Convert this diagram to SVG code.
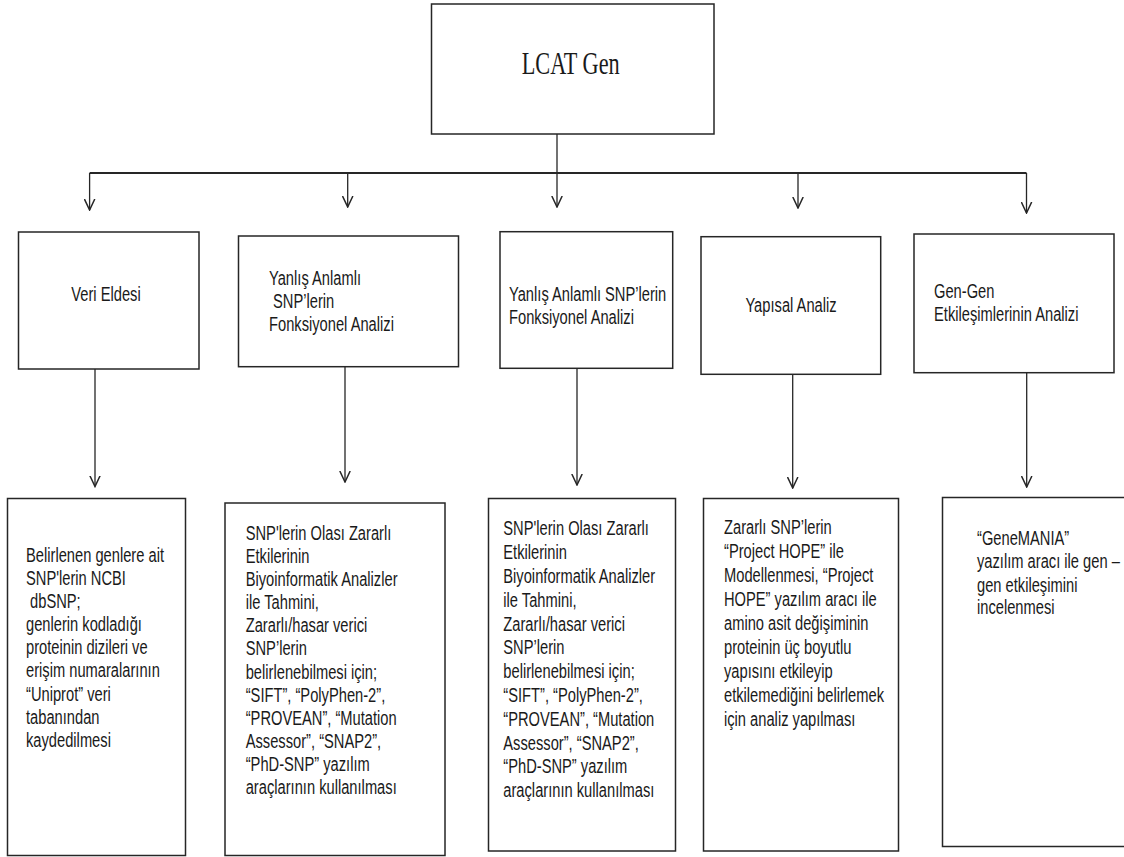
<svg xmlns="http://www.w3.org/2000/svg" width="1124" height="857" viewBox="0 0 1124 857">
<style>
.box{fill:#fff;stroke:#262626;stroke-width:1.5}
.t{font-family:"Liberation Sans",Arial,sans-serif;font-size:21px;fill:#1a1a1a}
.s{font-family:"Liberation Serif","Times New Roman",serif;font-size:31px;fill:#1a1a1a}
.c{fill:none;stroke:#262626;stroke-width:1.3}
.h{fill:none;stroke:#262626;stroke-width:2.2}
</style>
<defs>
<marker id="ah" viewBox="0 0 12 12" refX="11" refY="6" markerWidth="12" markerHeight="12" markerUnits="userSpaceOnUse" orient="auto">
<path d="M0,0.8 L11,6 L0,11.2" fill="none" stroke="#262626" stroke-width="1.5"/>
</marker>
</defs>
<rect width="1124" height="857" fill="#fff"/>

<g id="connectors">
<path class="c" d="M557,134 V207" marker-end="url(#ah)"/>
<path class="h" d="M89.6,173 H1026.5"/>
<path class="c" d="M89.6,173 V210" marker-end="url(#ah)"/>
<path class="c" d="M347.7,173 V207" marker-end="url(#ah)"/>
<path class="c" d="M798,173 V208" marker-end="url(#ah)"/>
<path class="c" d="M1026.5,173 V213" marker-end="url(#ah)"/>
<path class="c" d="M95,369 V486.5" marker-end="url(#ah)"/>
<path class="c" d="M345,366.7 V482" marker-end="url(#ah)"/>
<path class="c" d="M577,368.3 V485" marker-end="url(#ah)"/>
<path class="c" d="M792.7,374.3 V488" marker-end="url(#ah)"/>
<path class="c" d="M1026.7,372.7 V487" marker-end="url(#ah)"/>
</g>

<g id="lcat">
<rect class="box" x="431.5" y="4" width="282.5" height="130"/>
<text class="s" x="521.7" y="74" textLength="98" lengthAdjust="spacingAndGlyphs">LCAT Gen</text>
</g>

<g id="veri-eldesi">
<rect class="box" x="18.5" y="232" width="180.5" height="137"/>
<text class="t" text-anchor="middle" transform="translate(106 0) scale(0.7 1)"><tspan x="0" y="301">Veri Eldesi</tspan></text>
</g>

<g id="yanlis-1">
<rect class="box" x="238.5" y="236" width="220" height="130.7"/>
<text class="t" transform="translate(269 0) scale(0.7 1)"><tspan x="0" y="285">Yanlış Anlamlı</tspan><tspan x="5.8" y="308">SNP’lerin</tspan><tspan x="0" y="331">Fonksiyonel Analizi</tspan></text>
</g>

<g id="yanlis-2">
<rect class="box" x="500" y="231.7" width="172.7" height="136.6"/>
<text class="t" transform="translate(509 0) scale(0.7 1)"><tspan x="0" y="301">Yanlış Anlamlı SNP’lerin</tspan><tspan x="0" y="324">Fonksiyonel Analizi</tspan></text>
</g>

<g id="yapisal">
<rect class="box" x="701" y="236.7" width="179.7" height="137.6"/>
<text class="t" text-anchor="middle" transform="translate(791 0) scale(0.7 1)"><tspan x="0" y="312">Yapısal Analiz</tspan></text>
</g>

<g id="gen-gen">
<rect class="box" x="914" y="234" width="200" height="138.7"/>
<text class="t" transform="translate(934 0) scale(0.7 1)"><tspan x="0" y="298">Gen-Gen</tspan><tspan x="0" y="321">Etkileşimlerinin Analizi</tspan></text>
</g>

<g id="veri-detay">
<rect class="box" x="7.5" y="498.5" width="178" height="357"/>
<text class="t" transform="translate(26 0) scale(0.7 1)"><tspan x="0" y="562">Belirlenen genlere ait</tspan><tspan x="0" y="585.1">SNP'lerin NCBI</tspan><tspan x="5.8" y="608.2">dbSNP;</tspan><tspan x="0" y="631.3">genlerin kodladığı</tspan><tspan x="0" y="654.4">proteinin dizileri ve</tspan><tspan x="0" y="677.5">erişim numaralarının</tspan><tspan x="0" y="700.6">“Uniprot” veri</tspan><tspan x="0" y="723.7">tabanından</tspan><tspan x="0" y="746.8">kaydedilmesi</tspan></text>
</g>

<g id="yanlis-1-detay">
<rect class="box" x="225" y="503" width="220" height="352.5"/>
<text class="t" transform="translate(245.7 0) scale(0.7 1)"><tspan x="0" y="540">SNP'lerin Olası Zararlı</tspan><tspan x="0" y="563.1">Etkilerinin</tspan><tspan x="0" y="586.2">Biyoinformatik Analizler</tspan><tspan x="0" y="609.3">ile Tahmini,</tspan><tspan x="0" y="632.4">Zararlı/hasar verici</tspan><tspan x="0" y="655.5">SNP’lerin</tspan><tspan x="0" y="678.6">belirlenebilmesi için;</tspan><tspan x="0" y="701.7">“SIFT”, “PolyPhen-2”,</tspan><tspan x="0" y="724.8">“PROVEAN”, “Mutation</tspan><tspan x="0" y="747.9">Assessor”, “SNAP2”,</tspan><tspan x="0" y="771">“PhD-SNP” yazılım</tspan><tspan x="0" y="794.1">araçlarının kullanılması</tspan></text>
</g>

<g id="yanlis-2-detay">
<rect class="box" x="488.5" y="498.5" width="187" height="352.5"/>
<text class="t" transform="translate(503.3 0) scale(0.7 1)"><tspan x="0" y="535.5">SNP'lerin Olası Zararlı</tspan><tspan x="0" y="559.3">Etkilerinin</tspan><tspan x="0" y="583.1">Biyoinformatik Analizler</tspan><tspan x="0" y="606.9">ile Tahmini,</tspan><tspan x="0" y="630.7">Zararlı/hasar verici</tspan><tspan x="0" y="654.5">SNP’lerin</tspan><tspan x="0" y="678.3">belirlenebilmesi için;</tspan><tspan x="0" y="702.1">“SIFT”, “PolyPhen-2”,</tspan><tspan x="0" y="725.9">“PROVEAN”, “Mutation</tspan><tspan x="0" y="749.7">Assessor”, “SNAP2”,</tspan><tspan x="0" y="773.5">“PhD-SNP” yazılım</tspan><tspan x="0" y="797.3">araçlarının kullanılması</tspan></text>
</g>

<g id="yapisal-detay">
<rect class="box" x="703.5" y="498.5" width="195" height="352.5"/>
<text class="t" transform="translate(724 0) scale(0.7 1)"><tspan x="0" y="534.5">Zararlı SNP’lerin</tspan><tspan x="0" y="558.5">“Project HOPE” ile</tspan><tspan x="0" y="582.5">Modellenmesi, “Project</tspan><tspan x="0" y="606.5">HOPE” yazılım aracı ile</tspan><tspan x="0" y="630.5">amino asit değişiminin</tspan><tspan x="0" y="654.5">proteinin üç boyutlu</tspan><tspan x="0" y="678.5">yapısını etkileyip</tspan><tspan x="0" y="702.5">etkilemediğini belirlemek</tspan><tspan x="0" y="726.5">için analiz yapılması</tspan></text>
</g>

<g id="gen-gen-detay">
<rect class="box" x="942.5" y="497.5" width="190" height="349"/>
<text class="t" transform="translate(977 0) scale(0.7 1)"><tspan x="0" y="545.5">“GeneMANIA”</tspan><tspan x="0" y="568.5">yazılım aracı ile gen –</tspan><tspan x="0" y="592">gen etkileşimini</tspan><tspan x="0" y="614.5">incelenmesi</tspan></text>
</g>
</svg>
